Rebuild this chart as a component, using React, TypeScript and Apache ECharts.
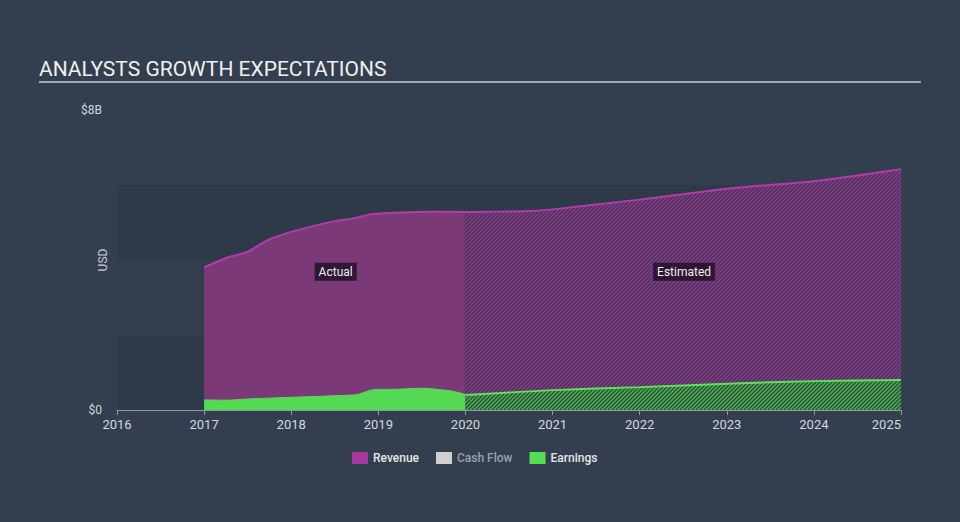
import React, { useEffect, useRef } from 'react';
import * as echarts from 'echarts';

const yearTicks = [2016, 2017, 2018, 2019, 2020, 2021, 2022, 2023, 2024, 2025];
const revenueActual: [number, number][] = [
  [2017, 3.8], [2017.26, 4.06], [2017.5, 4.22], [2017.73, 4.53], [2018.03, 4.77],
  [2018.48, 5.03], [2018.71, 5.11], [2018.94, 5.23], [2019.56, 5.29], [2020, 5.28],
];
const revenueEstimated: [number, number][] = [
  [2020, 5.28], [2020.67, 5.3], [2021, 5.35], [2022, 5.61], [2023, 5.9], [2024, 6.1], [2025, 6.42],
];
const earningsActual: [number, number][] = [
  [2017, 0.27], [2017.25, 0.26], [2017.56, 0.3], [2018.03, 0.34], [2018.71, 0.4], [2018.77, 0.42],
  [2018.96, 0.55], [2019.17, 0.55], [2019.5, 0.58], [2019.83, 0.51], [2020, 0.42],
];
const earningsEstimated: [number, number][] = [
  [2020, 0.4], [2021, 0.53], [2022, 0.61], [2023, 0.7], [2024, 0.77], [2025, 0.8],
];
const legendNames = ['Revenue', 'Cash Flow', 'Earnings'];
const yTickLabels: Record<number, string> = { 0: '$0', 8: '$8B' };

function hatch(base: string, stripe: string) {
  const c = document.createElement('canvas');
  c.width = 4;
  c.height = 4;
  const ctx = c.getContext('2d')!;
  ctx.fillStyle = base;
  ctx.fillRect(0, 0, 4, 4);
  ctx.strokeStyle = stripe;
  ctx.lineWidth = 1.4;
  ctx.beginPath();
  ctx.moveTo(0, 4); ctx.lineTo(4, 0);
  ctx.moveTo(-1, 1); ctx.lineTo(1, -1);
  ctx.moveTo(3, 5); ctx.lineTo(5, 3);
  ctx.stroke();
  return c;
}

const FONT = 'Roboto, "Noto Sans", sans-serif';
const REV = '#a8389f';
const EARN = '#52e052';

export default function App() {
  const ref = useRef<HTMLDivElement>(null);
  useEffect(() => {
    if (!ref.current) return;
    const chart = echarts.init(ref.current, undefined, { renderer: 'svg' });
    const revHatch = hatch('#45355a', '#8e3a89');
    const earnHatch = hatch('#2f4b3f', '#4cb54e');
    const labelStyle = {
      show: true,
      position: 'inside',
      formatter: '{b}',
      color: '#eeeeee',
      fontSize: 12,
      fontFamily: FONT,
      backgroundColor: 'rgba(35,18,40,0.85)',
      padding: [3, 4, 3, 4],
    };
    chart.setOption({
      animation: false,
      backgroundColor: '#333f4f',
      textStyle: { fontFamily: FONT },
      title: {
        text: 'ANALYSTS GROWTH EXPECTATIONS',
        left: 34,
        top: 53,
        textStyle: { color: '#f0f0f0', fontSize: 21, fontWeight: 'normal', fontFamily: FONT },
      },
      graphic: [
        {
          type: 'line',
          shape: { x1: 39, y1: 82, x2: 921, y2: 82 },
          style: { stroke: '#a3a9b1', lineWidth: 2 },
          silent: true,
        },
      ],
      legend: {
        data: [
          { name: 'Revenue', itemStyle: { color: REV } },
          { name: 'Cash Flow', itemStyle: { color: '#d0d0d0' }, textStyle: { color: '#99a2ac' } },
          { name: 'Earnings', itemStyle: { color: EARN } },
        ].filter((d) => legendNames.includes(d.name)),
        left: 347,
        top: 447,
        icon: 'rect',
        itemWidth: 16,
        itemHeight: 12,
        itemGap: 17,
        selectedMode: false,
        textStyle: { color: '#e6e6e6', fontSize: 12, fontWeight: 500, fontFamily: FONT },
      },
      grid: { left: 117, right: 59, top: 110, bottom: 112 },
      xAxis: {
        type: 'value',
        min: yearTicks[0],
        max: yearTicks[yearTicks.length - 1],
        interval: 1,
        axisLine: { lineStyle: { color: '#8f99a5', width: 1 } },
        axisTick: { show: true, length: 5, lineStyle: { color: '#8f99a5' } },
        axisLabel: {
          color: '#d5d8dc',
          fontSize: 13,
          margin: 8,
          alignMaxLabel: 'right',
          formatter: (v: number) => (yearTicks.includes(v) ? String(v) : ''),
        },
        splitLine: { show: false },
      },
      yAxis: {
        type: 'value',
        min: 0,
        max: 8,
        interval: 2,
        name: 'USD',
        nameLocation: 'middle',
        nameGap: 8,
        nameRotate: 90,
        nameMoveOverlap: false,
        nameTextStyle: { color: '#c8ccd2', fontSize: 12 },
        axisLine: { show: false },
        axisTick: { show: false },
        axisLabel: {
          color: '#d0d4d8',
          fontSize: 12,
          margin: 15,
          formatter: (v: number) => yTickLabels[v] ?? '',
        },
        splitLine: { show: false },
        splitArea: {
          show: true,
          areaStyle: { color: ['#2e3a48', '#323e4c', '#2e3a48', 'rgba(0,0,0,0)'] },
        },
      },
      series: [
        {
          name: 'Revenue',
          type: 'line',
          data: revenueActual,
          symbol: 'none',
          smooth: 0.2,
          color: REV,
          lineStyle: { color: '#b23cab', width: 2 },
          areaStyle: { color: '#7b3a77', opacity: 1 },
          z: 2,
          markPoint: {
            symbol: 'rect',
            symbolSize: 1,
            itemStyle: { color: 'rgba(0,0,0,0)' },
            label: labelStyle,
            data: [{ name: 'Actual', coord: [2018.51, 3.69] }],
          },
        },
        {
          name: 'Revenue',
          type: 'line',
          data: revenueEstimated,
          symbol: 'none',
          smooth: 0.2,
          color: REV,
          lineStyle: { color: '#b23cab', width: 2 },
          areaStyle: { color: { image: revHatch, repeat: 'repeat' }, opacity: 1 },
          z: 2,
          markPoint: {
            symbol: 'rect',
            symbolSize: 1,
            itemStyle: { color: 'rgba(0,0,0,0)' },
            label: labelStyle,
            data: [{ name: 'Estimated', coord: [2022.51, 3.69] }],
          },
        },
        {
          name: 'Cash Flow',
          type: 'line',
          data: [],
          color: '#d0d0d0',
        },
        {
          name: 'Earnings',
          type: 'line',
          data: earningsActual,
          symbol: 'none',
          smooth: 0.2,
          color: EARN,
          lineStyle: { color: '#55dd55', width: 1 },
          areaStyle: { color: '#55d955', opacity: 1 },
          z: 3,
        },
        {
          name: 'Earnings',
          type: 'line',
          data: earningsEstimated,
          symbol: 'none',
          smooth: 0.2,
          color: EARN,
          lineStyle: { color: '#5be35b', width: 2 },
          areaStyle: { color: { image: earnHatch, repeat: 'repeat' }, opacity: 1 },
          z: 3,
        },
      ],
    });
    return () => chart.dispose();
  }, []);
  return (
    <div
      ref={ref}
      style={{ position: 'absolute', left: 0, top: 0, width: 960, height: 522 }}
    />
  );
}
